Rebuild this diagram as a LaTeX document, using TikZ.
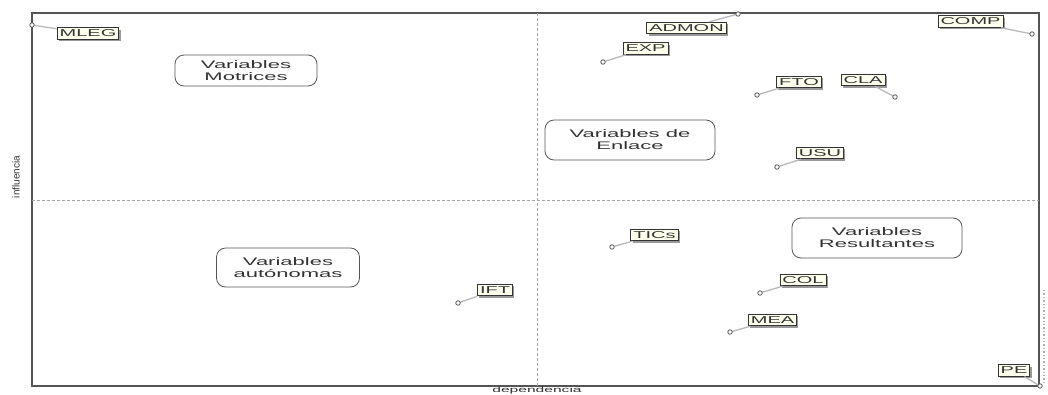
\documentclass[tikz,border=0pt]{standalone}
\usepackage{fontspec}
\setmainfont{Liberation Sans}
\newfontfamily\plotfont[FakeStretch=2.0]{Liberation Sans}
\usetikzlibrary{shadows}
\definecolor{framegray}{HTML}{555555}
\definecolor{inkgray}{HTML}{333333}
\definecolor{cream}{HTML}{FFFFEE}
\tikzset{
  frameline/.style={draw=framegray, line width=1.1pt},
  midline/.style={draw=gray!70, dash pattern=on 3pt off 2pt, line width=0.6pt},
  quadbox/.style={draw=framegray, line width=0.8pt, rounded corners=9pt, fill=white,
    align=center, font=\plotfont\fontsize{11}{12}\selectfont, text=inkgray, inner sep=0pt},
  varlabel/.style={draw=inkgray, line width=0.9pt, fill=cream, inner xsep=2.5pt, inner ysep=1.2pt,
    minimum height=11.5pt, font=\plotfont\fontsize{10}{10}\selectfont, text=inkgray,
    drop shadow={shadow xshift=1.8pt, shadow yshift=-1.8pt, fill=gray!80, opacity=1}},
  varpoint/.style={circle, draw=framegray, line width=0.8pt, fill=white, inner sep=0pt, minimum size=4.5pt},
  link/.style={draw=gray!55, line width=1.3pt},
  axistitle/.style={text=inkgray, inner sep=0pt}
}
\begin{document}
\begin{tikzpicture}[x=1pt, y=-1pt]
  \useasboundingbox (0,0) rectangle (1048,394);
  \fill[white] (0,0) rectangle (1048,394);

  % plot frame and quadrant dividers
  \draw[frameline] (32,13) rectangle (1039,386);
  \draw[midline] (537,13) -- (537,386);
  \draw[midline] (32,200) -- (1039,200);
  \draw[draw=gray!60, line width=1.4pt, dotted] (1044,290) -- (1044,384);

  % axis titles
  \node[axistitle, font=\fontsize{10}{10}\selectfont, rotate=90] (ylab) at (16,177) {influencia};
  \node[axistitle, font=\plotfont\fontsize{7.8}{8}\selectfont, anchor=south] (xlab) at (537,393.9) {dependencia};

  % quadrant captions
  \node[quadbox, minimum width=142pt, minimum height=31pt] (motrices) at (246,70.5) {Variables\\Motrices};
  \node[quadbox, minimum width=170pt, minimum height=40pt] (enlace) at (630,140) {Variables de\\Enlace};
  \node[quadbox, minimum width=170pt, minimum height=40pt] (resultantes) at (877,238) {Variables\\Resultantes};
  \node[quadbox, minimum width=143pt, minimum height=39pt] (autonomas) at (288,267.5) {Variables\\autónomas};

  % variable positions (named anchors for the leader lines)
  \coordinate (pMLEG)  at (32,25);
  \coordinate (pADMON) at (738,14);
  \coordinate (pEXP)   at (603,62);
  \coordinate (pCOMP)  at (1032,34);
  \coordinate (pFTO)   at (757,95);
  \coordinate (pCLA)   at (895,97);
  \coordinate (pUSU)   at (777,167);
  \coordinate (pTICs)  at (612,247);
  \coordinate (pIFT)   at (458,303);
  \coordinate (pCOL)   at (760,293);
  \coordinate (pMEA)   at (730,332);
  \coordinate (pPE)    at (1040,386);

  % variable labels
  \node[varlabel] (lMLEG)  at (88,33.5)    {MLEG};
  \node[varlabel] (lADMON) at (686.5,28)   {ADMON};
  \node[varlabel] (lEXP)   at (645.5,48.5) {EXP};
  \node[varlabel] (lCOMP)  at (970.5,21.5) {COMP};
  \node[varlabel] (lFTO)   at (799,82)     {FTO};
  \node[varlabel] (lCLA)   at (863,80)     {CLA};
  \node[varlabel] (lUSU)   at (820,153)    {USU};
  \node[varlabel] (lTICs)  at (654.5,235)  {TICs};
  \node[varlabel] (lIFT)   at (495,290)    {IFT};
  \node[varlabel] (lCOL)   at (803,280)    {COL};
  \node[varlabel] (lMEA)   at (772.5,320)  {MEA};
  \node[varlabel] (lPE)    at (1014,370.5) {PE};

  % leader lines, then the position markers on top
  \foreach \v in {MLEG,ADMON,EXP,COMP,FTO,CLA,USU,TICs,IFT,COL,MEA,PE}{
    \draw[link] (p\v) -- (l\v);
    \node[varpoint] (m\v) at (p\v) {};
  }
\end{tikzpicture}
\end{document}
